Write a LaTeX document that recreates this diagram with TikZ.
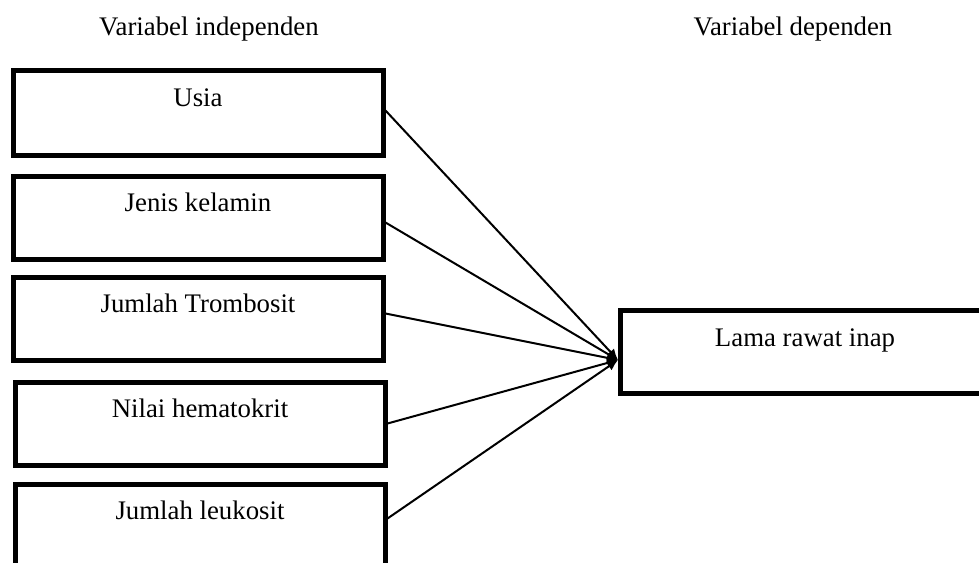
\documentclass[tikz,border=0pt]{standalone}
\usepackage{fontspec}
\setmainfont{Liberation Serif}
\usetikzlibrary{calc,arrows.meta}

\begin{document}
\begin{tikzpicture}[x=0.5pt, y=-0.5pt,
		every node/.style={font=\fontsize{13.4}{16}\selectfont},
		varbox/.style={draw, line width=2.5pt, minimum width=185pt, minimum height=41.5pt, inner sep=0pt},
		link/.style={line width=1pt, -{Latex[length=5.5pt, width=5pt]}}]
		%%%%% START %%%%%
		\useasboundingbox (0, 0) rectangle (979, 562);
		
		\node[anchor=base] (indep) at (209, 35) {Variabel independen};
		\node[anchor=base] (dep) at (793, 35) {Variabel dependen};
		
		\node[varbox, minimum height=42.5pt, label={[anchor=base, yshift=-19.5pt]north:Usia}] (usia) at (198, 112.5) {};
		\node[varbox, label={[anchor=base, yshift=-19pt]north:Jenis kelamin}] (kelamin) at (198, 217.5) {};
		\node[varbox, label={[anchor=base, yshift=-19pt]north:Jumlah Trombosit}] (trombosit) at (198, 318.5) {};
		\node[varbox, label={[anchor=base, yshift=-19pt]north:Nilai hematokrit}] (hematokrit) at (200, 423.5) {};
		\node[varbox, label={[anchor=base, yshift=-19pt]north:Jumlah leukosit}] (leukosit) at (200, 525.5) {};
		
		\node[varbox, label={[anchor=base, yshift=-19.5pt]north:Lama rawat inap}] (lama) at (805, 351.5) {};
		
		\coordinate (tip) at (618, 360);
		
		\draw[link] ([yshift=1pt]usia.east) -- (tip);
		\draw[link] ([yshift=-2.5pt]kelamin.east) -- (tip);
		\draw[link] ([yshift=2.5pt]trombosit.east) -- (tip);
		\draw[link] (hematokrit.east) -- (tip);
		\draw[link] ([yshift=3.5pt]leukosit.east) -- (tip);
		
		%%%%% END %%%%%
	\end{tikzpicture}
\end{document}
